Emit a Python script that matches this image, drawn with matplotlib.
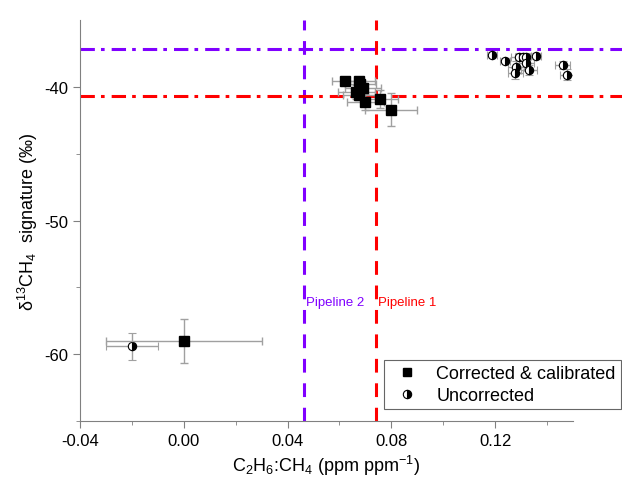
import numpy as np
import matplotlib.pyplot as plt
from matplotlib.lines import Line2D

plt.rcParams['font.family'] = ['Liberation Sans', 'DejaVu Sans']
plt.rcParams['mathtext.fontset'] = 'custom'
plt.rcParams['mathtext.rm'] = 'Liberation Sans'
plt.rcParams['mathtext.it'] = 'Liberation Sans:italic'
plt.rcParams['axes.unicode_minus'] = False

# corrected & calibrated
sq_x = [0.000, 0.062, 0.0675, 0.068, 0.069, 0.0665, 0.0675, 0.070, 0.0755, 0.080]
sq_y = [-59.0, -39.6, -39.6, -39.8, -40.1, -40.4, -40.6, -41.1, -40.9, -41.7]
sq_xerr = [0.030, 0.005, 0.006, 0.006, 0.007, 0.007, 0.006, 0.007, 0.007, 0.010]
sq_yerr = [1.65, 0.3, 0.3, 0.4, 0.5, 0.5, 0.4, 0.6, 0.7, 1.25]

# uncorrected
ci_x = [-0.020, 0.1188, 0.1237, 0.1290, 0.1306, 0.1320, 0.1358, 0.1280, 0.1278, 0.1330, 0.1320, 0.1460, 0.1478]
ci_y = [-59.4, -37.6, -38.05, -37.8, -37.75, -37.8, -37.7, -38.5, -39.0, -38.75, -38.2, -38.4, -39.1]
ci_xerr = [0.010, 0.002, 0.002, 0.003, 0.003, 0.003, 0.002, 0.003, 0.003, 0.003, 0.003, 0.003, 0.003]
ci_yerr = [1.0, 0.2, 0.2, 0.3, 0.3, 0.3, 0.2, 0.4, 0.4, 0.4, 0.3, 0.3, 0.4]

pipe_x = [0.0464, 0.0740]
pipe_y = [-37.15, -40.7]
pipe_names = ['Pipeline 2', 'Pipeline 1']
pipe_colors = ['#8000FF', '#FF0000']

fig = plt.figure(figsize=(6.22, 4.85), dpi=100)
ax = fig.add_axes([80/622, 1-422/485, (573-80)/622, (422-21)/485])

for x, y, c in zip(pipe_x, pipe_y, pipe_colors):
    ax.axvline(x, color=c, lw=2.2, dashes=(4.5, 3.5), zorder=1)
    ax.plot([-0.04, 0.175], [y, y], color=c, lw=2.2, dashes=(4.7, 2.0, 1.2, 2.3),
            clip_on=False, zorder=1, solid_capstyle='butt', dash_capstyle='butt')

for x, name, c in zip(pipe_x, pipe_names, pipe_colors):
    ax.text(x + 0.0008, -56.1, name, color=c, fontsize=9.5, va='center', ha='left')

ekw = dict(ecolor='#A0A0A0', elinewidth=1.0, capsize=3, capthick=1.0, ls='none')
ax.errorbar(ci_x, ci_y, xerr=ci_xerr, yerr=ci_yerr, marker='o', ms=6,
            mfc='black', mfcalt='white', fillstyle='right', mec='black', mew=0.8,
            zorder=3, **ekw)
ax.errorbar(sq_x, sq_y, xerr=sq_xerr, yerr=sq_yerr, marker='s', ms=6.5,
            mfc='black', mec='black', zorder=4, **ekw)

ax.set_xlim(-0.04, 0.15)
ax.set_ylim(-65, -35)
ax.set_xticks([-0.04, 0.00, 0.04, 0.08, 0.12])
ax.set_xticklabels(['-0.04', '0.00', '0.04', '0.08', '0.12'])
ax.set_xticks(np.arange(-0.02, 0.15, 0.04), minor=True)
ax.set_yticks([-60, -50, -40])
ax.set_yticks([-65, -55, -45], minor=True)
for s in ['top', 'right']:
    ax.spines[s].set_visible(False)
for s in ['left', 'bottom']:
    ax.spines[s].set_color('#808080')
ax.tick_params(which='major', length=5, color='#808080', labelsize=12)
ax.tick_params(which='minor', length=3, color='#808080')

ax.set_xlabel('C$_2$H$_6$:CH$_4$ (ppm ppm$^{-1}$)', fontsize=13, labelpad=4)
ax.set_ylabel('δ$^{13}$CH$_4$  signature (‰)', fontsize=13, labelpad=3)

handles = [
    Line2D([], [], ls='none', marker='s', ms=6, mfc='black', mec='black'),
    Line2D([], [], ls='none', marker='o', ms=6, mfc='black', mfcalt='white',
           fillstyle='right', mec='black', mew=0.8),
]
leg = fig.legend(handles, ['Corrected & calibrated', 'Uncorrected'],
                 loc='upper left', bbox_to_anchor=(384/622, 1-361/485),
                 borderaxespad=0, fontsize=13, frameon=True, fancybox=False,
                 handletextpad=0.6, labelspacing=0.25, borderpad=0.3)
leg.get_frame().set_edgecolor('#404040')
leg.get_frame().set_linewidth(0.8)

fig.savefig('out.png', dpi=100)
